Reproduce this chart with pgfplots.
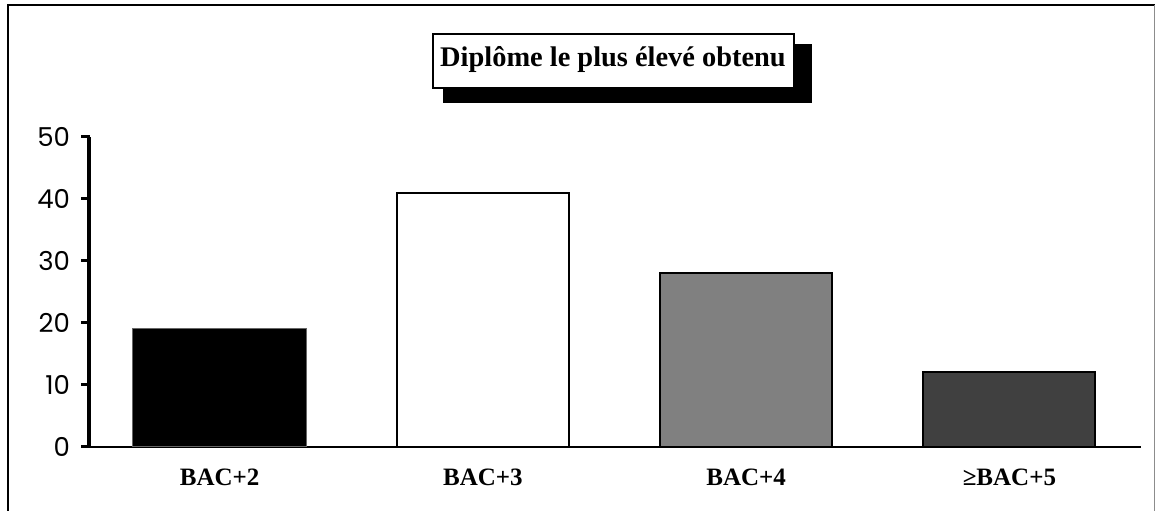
\documentclass[border=0pt]{standalone}
\usepackage{pgfplots}
\pgfplotsset{compat=1.18}
\usepackage{fontspec}
\setmainfont{Liberation Serif}
\newfontfamily\tickfont{Poppins}
\begin{document}
\begin{tikzpicture}
% 1 image pixel = 0.5pt; picture y measured upward from bottom (510 px tall)
\useasboundingbox (0,0) rectangle (578pt,255pt);
\draw[line width=1.1pt] (4pt,-1pt) -- (4pt,252.5pt) -- (577.5pt,252.5pt);
\draw[black!45, line width=0.6pt] (577.25pt,252.5pt) -- (577.25pt,-1pt);
\fill[black] (221.5pt,203.5pt) rectangle (406pt,233pt);
\draw[fill=white, line width=0.8pt] (216.5pt,211pt) rectangle (397pt,238pt);
\node[font=\bfseries\fontsize{14.2}{14.2}\selectfont, inner sep=0pt] at (306.5pt,225pt) {Diplôme le plus élevé obtenu};
\begin{axis}[
  at={(44pt,31.65pt)}, anchor=south west,
  scale only axis, width=526.5pt, height=155pt,
  xmin=-0.5, xmax=3.5, ymin=0, ymax=50,
  axis x line=bottom, axis y line=left,
  axis line style={-},
  x axis line style={line width=1pt},
  ytick={0,10,20,30,40,50},
  tick align=outside,
  major tick length=3.5pt,
  xtick={0,1,2,3},
  xticklabels={BAC+2, BAC+3, BAC+4, ≥BAC+5},
  xtick style={draw=none},
  xticklabel style={font=\bfseries\fontsize{12.5}{12.5}\selectfont, yshift=-4pt},
  yticklabel style={font=\tickfont\fontsize{13}{13}\selectfont, xshift=-2pt},
  /pgf/number format/assume math mode=true,
  clip=false,
]
\addplot[ybar, bar width=87pt, bar shift=0pt, fill=black, draw=black!60, line width=0.5pt] coordinates {(0,19)};
\addplot[ybar, bar width=86pt, bar shift=0pt, fill=white, draw=black, line width=1pt] coordinates {(1,41)};
\addplot[ybar, bar width=86pt, bar shift=0pt, fill={rgb,255:red,128;green,128;blue,128}, draw=black, line width=1pt] coordinates {(2,28)};
\addplot[ybar, bar width=86pt, bar shift=0pt, fill={rgb,255:red,64;green,64;blue,64}, draw=black, line width=1pt] coordinates {(3,12)};
% heavy y axis line and ticks, as in the reference
\draw[line width=2pt] ([xshift=0.5pt]axis cs:-0.5,0) -- ([xshift=0.5pt]axis cs:-0.5,50);
\pgfplotsinvokeforeach{0,10,20,30,40,50}{
  \draw[line width=1.5pt] ([xshift=1pt]axis cs:-0.5,#1) -- ([xshift=-3.5pt]axis cs:-0.5,#1);
}
\end{axis}
\end{tikzpicture}
\end{document}
